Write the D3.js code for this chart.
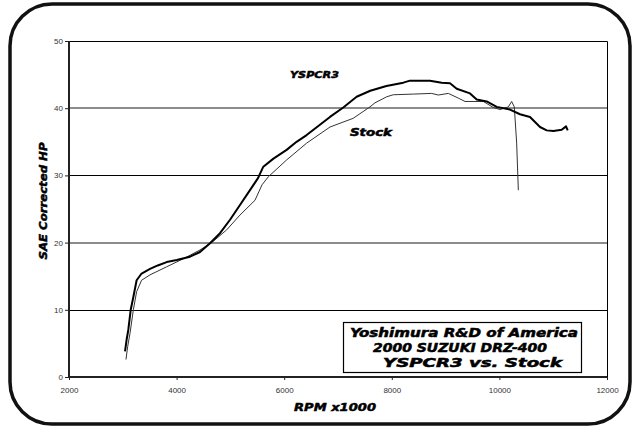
<!DOCTYPE html>
<html>
<head>
<meta charset="utf-8">
<script src="https://cdn.jsdelivr.net/npm/d3@7"></script>
<style>
  body { margin: 0; background: #fff; }
  .tick-label { font-family: "Liberation Sans", Arial, sans-serif; font-size: 8px; fill: #333; }
  .heavy { font-family: "DejaVu Sans", sans-serif; font-weight: bold; font-style: italic; fill: #000;
           stroke: #000; stroke-width: 0.5px; }
</style>
</head>
<body>
<svg width="634" height="430"></svg>
<script>
// dyno runs, rpm vs corrected hp
const rpmYspcr = [3041, 3070, 3102, 3147, 3196, 3257, 3349, 3506, 3650, 3816, 4002, 4249, 4435, 4621, 4807,
  4993, 5178, 5364, 5513, 5612, 5800, 6045, 6230, 6417, 6640, 6851, 7098, 7346, 7600, 7900, 8214, 8338,
  8710, 8927, 9082, 9206, 9454, 9578, 9764, 9950, 10197, 10383, 10569, 10755, 10879, 11003, 11158, 11238, 11270];
const hpYspcr = [3.8, 5.5, 7.0, 10.0, 11.9, 14.4, 15.4, 16.1, 16.6, 17.1, 17.4, 17.9, 18.6, 19.9, 21.4,
  23.4, 25.6, 27.8, 29.6, 31.3, 32.5, 33.8, 35.0, 36.0, 37.4, 38.7, 40.1, 41.7, 42.6, 43.3, 43.8, 44.1,
  44.1, 43.8, 43.7, 42.9, 42.2, 41.3, 41.0, 40.2, 39.8, 39.1, 38.7, 37.2, 36.7, 36.6, 36.8, 37.3, 36.7];

const rpmStock = [3059, 3090, 3134, 3196, 3257, 3349, 3506, 3816, 4125, 4435, 4652, 4931, 5178, 5457, 5588,
  5705, 6045, 6417, 6851, 7284, 7595, 7688, 7905, 8028, 8400, 8741, 8864, 9051, 9237, 9361, 9702, 9888,
  10012, 10166, 10228, 10277, 10321, 10352];
const hpStock = [2.6, 4.5, 6.5, 10.0, 12.7, 14.4, 15.2, 16.4, 17.6, 18.9, 20.0, 21.9, 24.1, 26.3, 28.6,
  29.8, 32.3, 34.8, 37.2, 38.5, 40.2, 40.8, 41.7, 42.0, 42.1, 42.2, 41.96, 42.2, 41.5, 41.0, 41.0, 40.1,
  39.8, 40.2, 41.0, 40.2, 34.8, 27.8];

const xTicks = [2000, 4000, 6000, 8000, 10000, 12000];
const yTicks = [0, 10, 20, 30, 40, 50];
const boxLines = ["Yoshimura R&D of America", "2000 SUZUKI DRZ-400", "YSPCR3 vs. Stock"];

const svg = d3.select('svg');

const x = d3.scaleLinear().domain([2000, 12000]).range([69, 607]);
const y = d3.scaleLinear().domain([0, 50]).range([377, 41]);

// rounded outer frame
svg.append('rect')
  .attr('x', 10).attr('y', 4).attr('width', 620).attr('height', 420)
  .attr('rx', 42).attr('ry', 42)
  .attr('fill', 'none').attr('stroke', '#111').attr('stroke-width', 3.5);

// gridlines (the 20 and 40 lines come out soft grey in the original)
svg.append('g').selectAll('line')
  .data(yTicks.filter(d => d > 0 && d < 50))
  .enter().append('line')
  .attr('x1', x(2000)).attr('x2', x(12000))
  .attr('y1', d => d % 20 === 0 ? Math.round(y(d)) : Math.round(y(d)) + 0.5)
  .attr('y2', d => d % 20 === 0 ? Math.round(y(d)) : Math.round(y(d)) + 0.5)
  .attr('stroke', d => d % 20 === 0 ? '#666' : '#000')
  .attr('stroke-width', d => d % 20 === 0 ? 1.6 : 1);

// top + right side of plot box
svg.append('path')
  .attr('d', `M${x(2000)},${y(50) + 0.5}H${x(12000) + 0.5}V${y(0)}`)
  .attr('fill', 'none').attr('stroke', '#000').attr('stroke-width', 1);

// axes
const yAxis = svg.append('g')
  .attr('transform', `translate(${x(2000)},0)`)
  .call(d3.axisLeft(y).tickValues(yTicks).tickSize(4).tickPadding(2));
const xAxis = svg.append('g')
  .attr('transform', `translate(0,${y(0)})`)
  .call(d3.axisBottom(x).tickValues(xTicks).tickSize(3).tickPadding(7).tickFormat(d3.format('d')));

[yAxis, xAxis].forEach(a => {
  a.select('.domain').attr('stroke', '#222').attr('stroke-width', 2);
  a.selectAll('.tick line').attr('stroke', '#222');
  a.selectAll('.tick text').attr('class', 'tick-label').attr('fill', null);
});
yAxis.select('.domain').attr('d', `M0,${y(0)}V${y(50)}`);
xAxis.select('.domain').attr('d', `M${x(2000)},0H${x(12000)}`);

// curves
const line = d3.line().x(d => x(d[0])).y(d => y(d[1]));

svg.append('path')
  .datum(d3.zip(rpmStock, hpStock))
  .attr('d', line)
  .attr('fill', 'none').attr('stroke', '#333').attr('stroke-width', 1);

svg.append('path')
  .datum(d3.zip(rpmYspcr, hpYspcr))
  .attr('d', line)
  .attr('fill', 'none').attr('stroke', '#000').attr('stroke-width', 2)
  .attr('stroke-linejoin', 'round');

// axis titles
svg.append('text')
  .attr('class', 'heavy')
  .attr('transform', 'translate(47,201) rotate(-90)')
  .attr('text-anchor', 'middle')
  .attr('textLength', 117).attr('lengthAdjust', 'spacingAndGlyphs')
  .style('font-size', '11px')
  .text('SAE Corrected HP');

svg.append('text')
  .attr('class', 'heavy')
  .attr('x', 294).attr('y', 411)
  .attr('textLength', 82).attr('lengthAdjust', 'spacingAndGlyphs')
  .style('font-size', '11px')
  .text('RPM x1000');

// series labels
svg.append('text')
  .attr('class', 'heavy')
  .attr('x', 290).attr('y', 78)
  .attr('textLength', 49).attr('lengthAdjust', 'spacingAndGlyphs')
  .style('font-size', '9.5px')
  .text('YSPCR3');

svg.append('text')
  .attr('class', 'heavy')
  .attr('x', 350).attr('y', 136)
  .attr('textLength', 42).attr('lengthAdjust', 'spacingAndGlyphs')
  .style('font-size', '10px')
  .text('Stock');

// title box
svg.append('rect')
  .attr('x', 343.5).attr('y', 322.5).attr('width', 238).attr('height', 50)
  .attr('fill', '#fff').attr('stroke', '#000').attr('stroke-width', 1.2);

const boxX = [350, 373, 383];
const boxW = [228, 174, 179];
const boxY = [337, 352, 366.5];
svg.append('g').selectAll('text')
  .data(boxLines)
  .enter().append('text')
  .attr('class', 'heavy')
  .attr('x', (d, i) => boxX[i]).attr('y', (d, i) => boxY[i])
  .attr('textLength', (d, i) => boxW[i]).attr('lengthAdjust', 'spacingAndGlyphs')
  .style('font-size', '11.5px')
  .text(d => d);
</script>
</body>
</html>
